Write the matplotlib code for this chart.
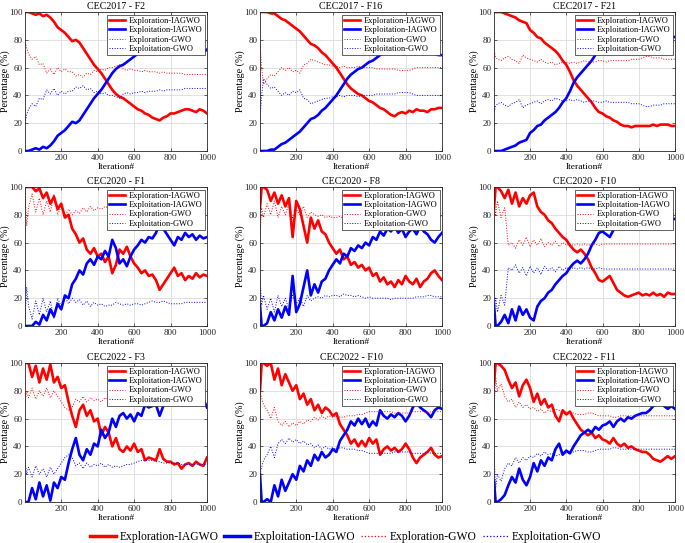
import matplotlib
matplotlib.use("Agg")
import matplotlib.pyplot as plt
from matplotlib.lines import Line2D

plt.rcParams['font.family'] = ['Liberation Serif', 'DejaVu Serif']

# iteration grid the values were read at
ITERS = [1, 10] + list(range(20, 1001, 20))

TITLES = ['CEC2017 - F2', 'CEC2017 - F16', 'CEC2017 - F21',
          'CEC2020 - F1', 'CEC2020 - F8', 'CEC2020 - F10',
          'CEC2022 - F3', 'CEC2022 - F10', 'CEC2022 - F11']

# exploration share (%) per panel; exploitation is the rest up to 100
F2_IAGWO = [100, 100, 100, 99, 98, 99, 97, 98, 96, 93, 89, 87,
            85, 82, 79, 80, 78, 74, 70, 66, 62, 59,
            56, 52, 48, 44, 41, 39, 38, 36, 34, 32,
            30, 29, 27, 26, 24, 23, 22, 24, 25, 27,
            27, 28, 29, 30, 30, 29, 28, 30, 29, 27]
F2_GWO = [80, 74, 70, 66, 68, 62, 63, 56, 59, 55, 60, 57,
          59, 57, 57, 54, 55, 53, 56, 55, 58, 57,
          59, 58, 60, 60, 61, 62, 59, 58, 59, 58,
          58, 57, 58, 57, 57, 57, 56, 57, 56, 56,
          56, 56, 56, 55, 55, 55, 55, 55, 55, 55]

F16_IAGWO = [100, 100, 100, 100, 99, 99, 97, 95, 94, 92, 90, 88,
             86, 83, 80, 77, 76, 74, 71, 69, 66, 63,
             60, 56, 52, 48, 45, 43, 41, 40, 38, 36,
             35, 33, 31, 30, 28, 26, 25, 27, 28, 27,
             29, 28, 30, 29, 29, 28, 30, 30, 31, 31]
F16_GWO = [77, 60, 48, 52, 55, 54, 57, 60, 58, 60, 57, 58,
           56, 62, 63, 66, 65, 64, 63, 62, 62, 61,
           61, 60, 61, 60, 60, 60, 61, 60, 60, 60,
           60, 59, 59, 59, 59, 59, 59, 58, 58, 58,
           58, 59, 60, 60, 60, 60, 60, 60, 60, 60]

F21_IAGWO = [100, 100, 100, 100, 99, 98, 97, 96, 94, 93, 92, 87,
             85, 82, 81, 78, 76, 74, 72, 69, 65, 62,
             57, 51, 47, 44, 41, 38, 35, 31, 28, 27,
             25, 24, 22, 21, 19, 18, 18, 17, 18, 18,
             18, 18, 18, 19, 18, 19, 19, 19, 18, 18]
F21_GWO = [72, 68, 66, 65, 67, 68, 66, 65, 63, 69, 67, 66,
           65, 64, 66, 64, 63, 64, 62, 63, 64, 64,
           63, 64, 63, 64, 65, 64, 64, 64, 65, 65,
           64, 65, 65, 65, 65, 65, 65, 66, 66, 66,
           67, 68, 68, 67, 67, 67, 66, 66, 66, 66]

F1_IAGWO = [100, 100, 100, 100, 97, 99, 92, 96, 88, 93, 84, 88,
            78, 80, 70, 66, 60, 63, 55, 52, 56, 50,
            52, 46, 50, 38, 44, 55, 52, 57, 50, 45,
            42, 38, 40, 36, 37, 33, 26, 30, 34, 38,
            42, 36, 38, 33, 36, 34, 38, 35, 37, 36]
F1_GWO = [95, 72, 85, 95, 82, 92, 80, 90, 82, 95, 80, 86,
          79, 84, 80, 83, 81, 85, 82, 86, 83, 85,
          84, 86, 85, 85, 83, 84, 85, 84, 85, 84,
          84, 85, 84, 83, 82, 83, 83, 82, 83, 84,
          84, 84, 84, 83, 83, 83, 83, 83, 83, 83]

F8_IAGWO = [85, 100, 100, 98, 90, 96, 88, 94, 86, 92, 64, 90,
            84, 72, 60, 78, 70, 76, 68, 66, 60, 56,
            52, 55, 48, 50, 44, 46, 42, 44, 40, 42,
            36, 38, 32, 35, 30, 32, 28, 33, 30, 36,
            32, 30, 34, 28, 32, 34, 38, 40, 36, 33]
F8_GWO = [65, 85, 78, 88, 80, 90, 78, 86, 80, 88, 78, 84,
          80, 86, 78, 82, 80, 79, 80, 78, 79, 78,
          78, 79, 77, 78, 78, 79, 78, 79, 80, 79,
          80, 80, 80, 80, 80, 81, 80, 80, 80, 80,
          80, 80, 79, 79, 79, 78, 78, 79, 79, 79]

F10A_IAGWO = [85, 100, 100, 97, 92, 98, 88, 96, 86, 92, 88, 94,
              96, 86, 82, 80, 76, 74, 70, 67, 64, 62,
              58, 55, 53, 55, 52, 48, 42, 38, 33, 32,
              34, 36, 31, 26, 24, 22, 21, 22, 23, 24,
              22, 23, 22, 24, 22, 23, 21, 24, 23, 23]
F10A_GWO = [95, 80, 90, 78, 85, 58, 60, 56, 62, 58, 64, 57,
            62, 58, 63, 57, 60, 58, 61, 57, 60, 58,
            59, 58, 59, 58, 59, 58, 59, 59, 58, 59,
            59, 59, 59, 59, 59, 59, 59, 59, 59, 59,
            59, 59, 59, 59, 59, 59, 59, 59, 59, 59]

F3_IAGWO = [100, 100, 100, 90, 98, 86, 96, 88, 99, 86, 90, 82,
            84, 72, 62, 54, 66, 70, 62, 66, 58, 60,
            48, 54, 50, 40, 46, 38, 36, 40, 37, 42,
            36, 38, 30, 32, 31, 30, 38, 31, 29, 29,
            27, 28, 24, 27, 28, 26, 29, 27, 26, 32]
F3_GWO = [70, 80, 75, 82, 74, 80, 76, 82, 75, 80, 76, 72,
          68, 66, 68, 74, 72, 76, 72, 75, 73, 74,
          72, 75, 73, 75, 74, 75, 74, 73, 73, 72,
          71, 70, 70, 70, 70, 71, 71, 72, 72, 72,
          72, 72, 73, 73, 73, 73, 73, 73, 73, 73]

F10B_IAGWO = [80, 100, 100, 98, 100, 88, 96, 84, 92, 86, 80, 84,
              74, 78, 70, 74, 66, 70, 64, 68, 66, 62,
              64, 56, 52, 48, 42, 45, 40, 44, 40, 46,
              42, 45, 34, 38, 40, 37, 39, 36, 38, 42,
              38, 32, 28, 32, 34, 36, 39, 34, 32, 33]
F10B_GWO = [80, 75, 70, 66, 60, 68, 58, 55, 58, 54, 57, 55,
            58, 56, 59, 58, 61, 59, 62, 60, 62, 61,
            62, 61, 61, 62, 62, 62, 63, 63, 64, 65,
            65, 65, 65, 65, 65, 65, 64, 64, 64, 64,
            64, 65, 65, 65, 65, 64, 65, 65, 65, 65]

F11_IAGWO = [85, 100, 100, 98, 95, 88, 82, 86, 76, 84, 88, 82,
             72, 78, 70, 74, 68, 70, 62, 58, 66, 63,
             65, 60, 56, 52, 50, 48, 50, 46, 48, 45,
             44, 42, 46, 42, 40, 42, 39, 40, 38, 37,
             36, 36, 34, 31, 30, 29, 31, 33, 31, 33]
F11_GWO = [65, 90, 80, 85, 76, 72, 74, 68, 72, 68, 70, 67,
           68, 65, 67, 64, 66, 65, 67, 66, 64, 65,
           64, 64, 63, 63, 63, 64, 64, 63, 62, 62,
           62, 62, 61, 61, 62, 62, 62, 62, 62, 62,
           62, 62, 62, 62, 62, 62, 62, 62, 62, 62]

PANELS = [(F2_IAGWO, F2_GWO), (F16_IAGWO, F16_GWO), (F21_IAGWO, F21_GWO),
          (F1_IAGWO, F1_GWO), (F8_IAGWO, F8_GWO), (F10A_IAGWO, F10A_GWO),
          (F3_IAGWO, F3_GWO), (F10B_IAGWO, F10B_GWO), (F11_IAGWO, F11_GWO)]

LABELS = ['Exploration-IAGWO', 'Exploitation-IAGWO', 'Exploration-GWO', 'Exploitation-GWO']

W, H = 685, 543
fig = plt.figure(figsize=(W / 100, H / 100), dpi=100)

col_left = [25, 260, 494]
col_w = [182, 182, 181]
row_top = [12, 187, 363]
ax_h = 139


def draw_panel(ax, title, explor_ia, explor_gwo, width_px):
    exploit_ia = [100 - v for v in explor_ia]
    exploit_gwo = [100 - v for v in explor_gwo]
    ax.plot(ITERS, explor_ia, color='red', lw=1.9, label=LABELS[0])
    ax.plot(ITERS, exploit_ia, color='blue', lw=1.9, label=LABELS[1])
    ax.plot(ITERS, explor_gwo, color='red', lw=0.7, ls=':', label=LABELS[2])
    ax.plot(ITERS, exploit_gwo, color='blue', lw=0.7, ls=':', label=LABELS[3])
    ax.set_xlim(1, 1000)
    ax.set_ylim(0, 100)
    ax.set_xticks([200, 400, 600, 800, 1000])
    ax.set_yticks([0, 20, 40, 60, 80, 100])
    ax.grid(True, color='#dcdcdc', lw=0.6)
    ax.set_axisbelow(True)
    ax.tick_params(direction='in', labelsize=6.5, length=2, width=0.5,
                   colors='#262626', pad=2, top=True, right=True)
    for sp in ax.spines.values():
        sp.set_linewidth(0.6)
        sp.set_color('#262626')
    ax.set_title(title, fontsize=7.2, pad=2)
    ax.set_xlabel('Iteration#', fontsize=6.8, labelpad=1)
    ax.set_ylabel('Percentage (%)', fontsize=7.2)
    ax.yaxis.set_label_coords(-15 / width_px, 0.5)
    leg = ax.legend(loc='upper right', fontsize=6.0, frameon=True, fancybox=False,
                    framealpha=1, edgecolor='#262626', handlelength=1.9,
                    labelspacing=0.15, borderpad=0.3, handletextpad=0.4,
                    borderaxespad=0.3)
    leg.get_frame().set_linewidth(0.5)


for i, (title, (ia, gwo)) in enumerate(zip(TITLES, PANELS)):
    r, c = divmod(i, 3)
    left = col_left[c] / W
    bottom = (H - row_top[r] - ax_h) / H
    ax = fig.add_axes([left, bottom, col_w[c] / W, ax_h / H])
    draw_panel(ax, title, ia, gwo, col_w[c])

handles = [Line2D([], [], color='red', lw=2.5),
           Line2D([], [], color='blue', lw=2.5),
           Line2D([], [], color='red', lw=0.9, ls=':'),
           Line2D([], [], color='blue', lw=0.9, ls=':')]
fig.legend(handles, LABELS, loc='center', bbox_to_anchor=(346 / W, 6 / H), ncol=4,
           frameon=False, fontsize=8.4, handlelength=2.2, columnspacing=0.5,
           handletextpad=0.3, borderpad=0)

fig.savefig('out.png', dpi=100)
